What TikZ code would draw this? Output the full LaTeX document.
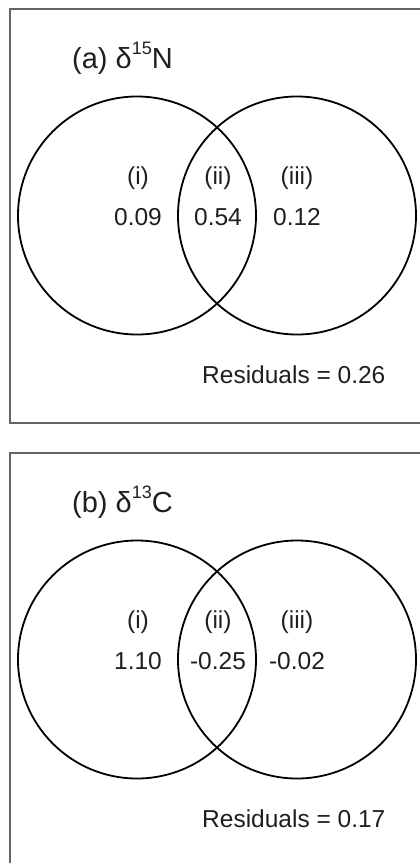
\documentclass[tikz,border=0pt]{standalone}
\usepackage{fontspec}
\setmainfont{Liberation Sans}
\begin{document}
\begin{tikzpicture}[x=1pt,y=-1pt,
  panelbox/.style={draw=black!60,line width=1.4pt},
  venn/.style={draw=black,line width=1.8pt},
  ttl/.style={anchor=base west,inner sep=0pt,text=black!88,font=\fontsize{29}{29}\selectfont},
  lbl/.style={anchor=base,inner sep=0pt,text=black!88,font=\fontsize{24.5}{24.5}\selectfont},
  resid/.style={anchor=base west,inner sep=0pt,text=black!88,font=\fontsize{24.5}{24.5}\selectfont}]
\useasboundingbox (0,0) rectangle (420,863);
\newcommand{\supnum}[1]{\raisebox{13.5pt}{\fontsize{18}{18}\selectfont #1}}
% panel (a)
\draw[panelbox] (10,9) rectangle (425,423);
\node[venn,circle,minimum size=238pt,inner sep=0pt] (La) at (137,215.5) {};
\node[venn,circle,minimum size=238pt,inner sep=0pt] (Ra) at (297,215.5) {};
\node[ttl] (ta) at (72,68) {(a) δ\supnum{15}N};
\node[lbl] (ia) at (138,184) {(i)};
\node[lbl] (iia) at (218,184) {(ii)};
\node[lbl] (iiia) at (297,184) {(iii)};
\node[lbl] (va) at (138,225) {0.09};
\node[lbl] (vb) at (218,225) {0.54};
\node[lbl] (vc) at (297,225) {0.12};
\node[resid] (ra) at (202,383) {Residuals = 0.26};
% panel (b)
\draw[panelbox] (10,453) rectangle (425,870);
\node[venn,circle,minimum size=238pt,inner sep=0pt] (Lb) at (137,659.5) {};
\node[venn,circle,minimum size=238pt,inner sep=0pt] (Rb) at (297,659.5) {};
\node[ttl] (tb) at (72,512) {(b) δ\supnum{13}C};
\node[lbl] (ib) at (138,628) {(i)};
\node[lbl] (iib) at (218,628) {(ii)};
\node[lbl] (iiib) at (297,628) {(iii)};
\node[lbl] (wa) at (138,669) {1.10};
\node[lbl] (wb) at (218,669) {-0.25};
\node[lbl] (wc) at (297,669) {-0.02};
\node[resid] (rb) at (202,827) {Residuals = 0.17};
\end{tikzpicture}
\end{document}
